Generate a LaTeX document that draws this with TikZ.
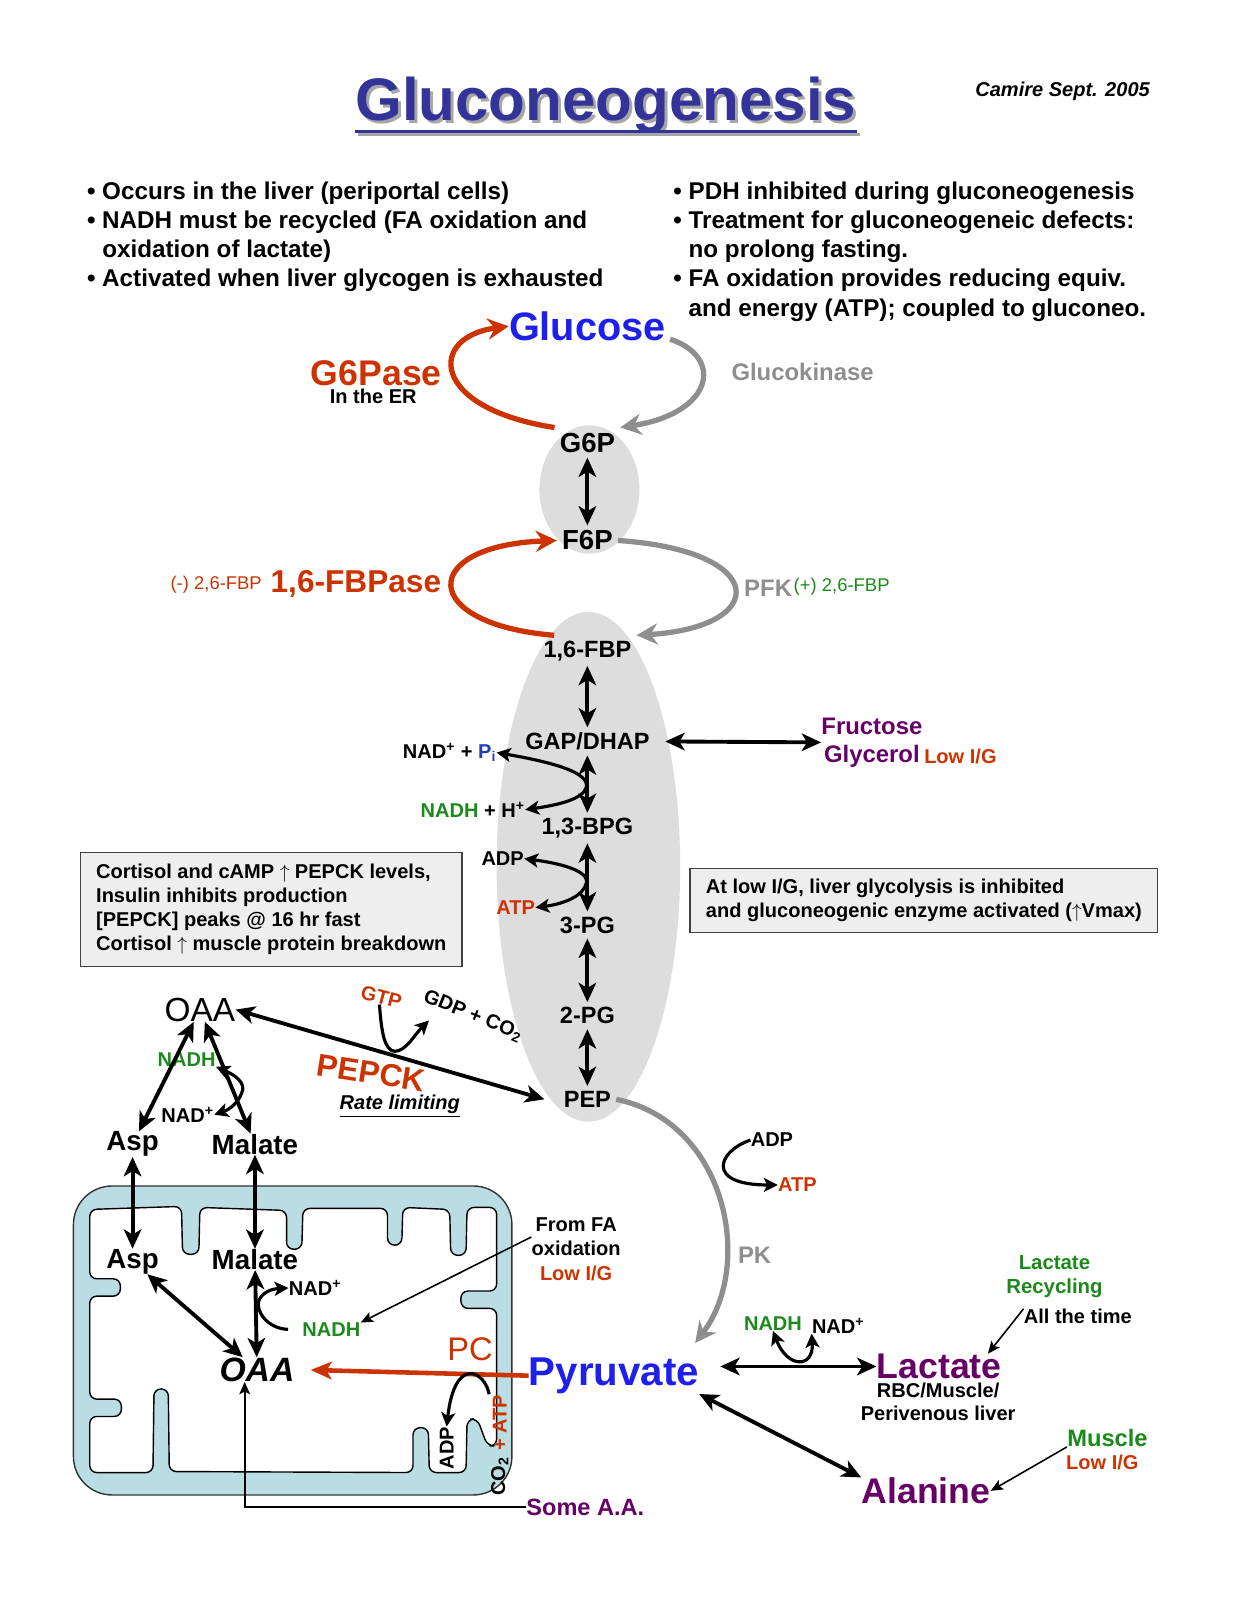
\documentclass[tikz,border=0pt]{standalone}
\usepackage{fontspec}
\setmainfont{Liberation Sans}
\usetikzlibrary{arrows.meta}

\definecolor{rust}{HTML}{CC3300}
\definecolor{leaf}{HTML}{1B8A1B}
\definecolor{plum}{HTML}{660066}
\definecolor{inkblue}{HTML}{333399}
\definecolor{glublue}{HTML}{1F1FEB}
\definecolor{kinase}{HTML}{8E8E8E}
\definecolor{cyto}{HTML}{DDDDDD}
\definecolor{matrixblue}{HTML}{B9DDE3}
\definecolor{boxfill}{HTML}{EEEEEE}
\definecolor{pinblue}{HTML}{1F3FBF}

\newcommand{\fsz}[2]{\fontsize{#1}{#2}\selectfont}

\begin{document}
\begin{tikzpicture}[x=0.0204cm,y=-0.0204cm]

    \useasboundingbox (0,0) rectangle (1213,1569);

    \tikzset{every node/.style={inner sep=0pt},
      met/.style={font=\bfseries\fsz{13.4}{16},outer sep=3pt},
      lbl/.style={font=\bfseries\fsz{11.4}{13.8}},
      hint/.style={font=\fsz{10.5}{12}},
      dbl/.style={{Stealth[length=11pt,width=10pt,inset=3pt]}-{Stealth[length=11pt,width=10pt,inset=3pt]},line width=2.2pt},
      side/.style={{Stealth[length=8pt,width=8pt,inset=2pt]}-{Stealth[length=8pt,width=8pt,inset=2pt]},line width=1.8pt},
      onearr/.style={-{Stealth[length=8pt,width=8pt,inset=2pt]},line width=1.8pt},
      thinarr/.style={-{Stealth[length=7pt,width=6pt,inset=1.5pt]},line width=0.9pt},
      kin/.style={-{Stealth[length=12pt,width=12pt,inset=4pt]},line width=3pt,draw=kinase},
      pase/.style={-{Stealth[length=12pt,width=12pt,inset=4pt]},line width=3pt,draw=rust},
      infobox/.style={draw=black!75,fill=boxfill,line width=0.8pt,align=left,inner xsep=9pt,inner ysep=6pt,font=\bfseries\fsz{11.4}{13.6}}
    }

    % titulo y notas
    \node[text=black!35,font=\bfseries\fsz{34.2}{40}] (titleshadow) at (597,106) {Gluconeogenesis};
    \node[text=inkblue,font=\bfseries\fsz{34.2}{40}] (title) at (594,103) {Gluconeogenesis};
    \draw[black!35,line width=2.2pt] ([shift={(3,1)}]title.south west) -- ([shift={(3,1)}]title.south east);
    \draw[inkblue,line width=2.2pt] ([shift={(0,-2)}]title.south west) -- ([shift={(0,-2)}]title.south east);
    \node[font=\bfseries\itshape\fsz{11.4}{13}] (author) at (1042,90) {Camire Sept. 2005};

    \node[anchor=north west,align=left,font=\bfseries\fsz{13.8}{16.6}] (notesL) at (85,178)
      {•~Occurs in the liver (periportal cells)\\
       •~NADH must be recycled (FA oxidation and\\
       \phantom{•~}oxidation of lactate)\\
       •~Activated when liver glycogen is exhausted};
    \node[anchor=north west,align=left,font=\bfseries\fsz{13.8}{16.6}] (notesR) at (660,178)
      {•~PDH inhibited during gluconeogenesis\\
       •~Treatment for gluconeogeneic defects:\\
       \phantom{•~}no prolong fasting.\\
       •~FA oxidation provides reducing equiv.\\
       \phantom{•~}and energy (ATP); coupled to gluconeo.};

    % citosol
    \fill[cyto] (578,480) ellipse [x radius=49,y radius=63];
    \fill[cyto] (577,850) ellipse [x radius=90,y radius=250];

    \node[text=glublue,font=\bfseries\fsz{22.6}{26}] (glc) at (576,320) {Glucose};
    \node[text=rust,font=\bfseries\fsz{20.3}{24}] (g6pase) at (369,366) {G6Pase};
    \node[lbl] (inER) at (366,389) {In the ER};
    \node[text=kinase,font=\bfseries\fsz{13.6}{16}] (gk) at (787,365) {Glucokinase};

    \node[met,font=\bfseries\fsz{15.7}{18}] (g6p) at (576,434) {G6P};
    \node[met,font=\bfseries\fsz{15.7}{18}] (f6p) at (576,530) {F6P};

    \node[text=rust,font=\bfseries\fsz{18}{21}] (fbpase) at (349,573) {1,6-FBPase};
    \node[hint,text=rust] (fbpneg) at (212,573) {(-) 2,6-FBP};
    \node[anchor=east,text=kinase,font=\bfseries\fsz{13.6}{16}] (pfk) at (777,577) {PFK};
    \node[hint,anchor=west,text=leaf] (fbppos) at (778,575) {(+) 2,6-FBP};

    \node[met] (fbp) at (576,638) {1,6-FBP};
    \node[met] (gap) at (576,727) {GAP/DHAP};
    \node[met] (bpg) at (576,812) {1,3-BPG};
    \node[met] (pg3) at (576,907) {3-PG};
    \node[met] (pg2) at (576,996) {2-PG};
    \node[met] (pep) at (576,1078) {PEP};

    \draw[pase] (g6p.north west) .. controls (420,400) and (420,330) .. (glc.west);
    \draw[kin] ([shift={(4,-2)}]glc.south east) .. controls (710,350) and (700,405) .. (g6p.north east);
    \draw[pase] ([xshift=9pt]fbp.north west) .. controls (410,612) and (410,535) .. (f6p.west);
    \draw[kin] (f6p.east) .. controls (755,540) and (755,615) .. (fbp.north east);

    \begin{scope}[every path/.style={dbl}]
        \draw (g6p) -- (f6p);
        \draw (fbp) -- (gap);
        \draw (gap) -- (bpg);
        \draw (bpg) -- (pg3);
        \draw (pg3) -- (pg2);
        \draw (pg2) -- (pep);
    \end{scope}

    \node[lbl,anchor=east] (nadp1) at (487,738) {NAD\textsuperscript{+} + \textcolor{pinblue}{P\textsubscript{i}}};
    \node[lbl,anchor=east] (nadh1) at (515,794) {\textcolor{leaf}{NADH} + H\textsuperscript{+}};
    \node[lbl,anchor=east] (adp2) at (514,842) {ADP};
    \node[lbl,anchor=east,text=rust] (atp2) at (525,890) {ATP};
    \draw[side] (nadp1.east) .. controls (545,748) and (578,758) .. (575,772)
                .. controls (572,783) and (550,789) .. (nadh1.east);
    \draw[side] (adp2.east) .. controls (560,848) and (578,857) .. (575,866)
                .. controls (572,878) and (555,886) .. (atp2.east);

    \node[text=plum,align=center,font=\bfseries\fsz{13.6}{16}] (fructgly) at (855,728) {Fructose\\Glycerol};
    \node[lbl,anchor=west,text=rust] (lowig1) at (906,742) {Low I/G};
    \draw[dbl,shorten <=6pt] (gap.east) -- (fructgly.west);

    \node[infobox,minimum height=65pt] (boxL) at (266,892)
      {Cortisol and cAMP $\uparrow$ PEPCK levels,\\
       Insulin inhibits production\\
       {[PEPCK]} peaks @ 16 hr fast\\
       Cortisol $\uparrow$ muscle protein breakdown};
    \node[infobox,minimum height=36.6pt] (boxR) at (906,883)
      {At low I/G, liver glycolysis is inhibited\\
       and gluconeogenic enzyme activated ($\uparrow$Vmax)};

    % PEPCK
    \node[font=\fsz{19}{22}] (oaa) at (196,990) {OAA};
    \node[font=\bfseries\fsz{15.8}{18}] (asp) at (130,1122) {Asp};
    \node[font=\bfseries\fsz{15.8}{18}] (mal) at (250,1122) {Malate};
    \node[lbl,text=leaf] (nadh2) at (183,1039) {NADH};
    \node[lbl] (nad2) at (184,1093) {NAD\textsuperscript{+}};
    \draw[dbl] (oaa) -- (asp);
    \draw[dbl] (oaa) -- (mal);
    \draw[side] (nadh2.south east) .. controls (230,1054) and (242,1062) .. (237,1072)
                .. controls (233,1082) and (225,1088) .. (nad2.east);

    \node[lbl,text=rust,rotate=-15] (gtp) at (374,978) {GTP};
    \node[lbl,rotate=-22] (gdp) at (464,996) {GDP + CO\textsubscript{2}};
    \node[text=rust,rotate=-9,font=\bfseries\fsz{18}{21}] (pepck) at (364,1052) {PEPCK};
    \node[font=\bfseries\itshape\fsz{11.4}{13}] (ratelim) at (392,1085) {\underline{Rate limiting}};
    \draw[dbl] (oaa.east) -- ([xshift=-8pt]pep.west);
    \draw[onearr] (gtp.south) .. controls (374,1012) and (377,1030) .. (387,1031)
                  .. controls (398,1031) and (407,1014) .. ([shift={(8,16)}]gdp.south west);

    % mitocondria
    \filldraw[fill=matrixblue,draw=black!80,line width=0.8pt,rounded corners=22pt] (72,1163) rectangle (502,1466);
    \filldraw[fill=white,draw=black,line width=0.8pt,rounded corners=4pt]
      (88,1186) -- (178,1183) -- (179,1230) -- (195,1230) -- (196,1184)
      -- (281,1187) -- (281,1225) -- (296,1225) -- (297,1185)
      -- (380,1185) -- (380,1221) -- (394,1221) -- (395,1184)
      -- (441,1186) -- (442,1231) -- (457,1231) -- (458,1184)
      -- (487,1184) -- (487,1266) -- (452,1266) -- (452,1283) -- (487,1283)
      -- (487,1418) -- (478,1418) -- (468,1391) -- (458,1392) -- (457,1444)
      -- (421,1444) -- (420,1400) -- (405,1400) -- (405,1444)
      -- (166,1443) -- (165,1362) -- (151,1362) -- (150,1444)
      -- (88,1444) -- (88,1389) -- (119,1389) -- (119,1372) -- (88,1372)
      -- (88,1271) -- (118,1271) -- (118,1254) -- (88,1254) -- cycle;

    \node[font=\bfseries\fsz{15.8}{18}] (aspm) at (130,1237) {Asp};
    \node[font=\bfseries\fsz{15.8}{18}] (malm) at (250,1235) {Malate};
    \node[font=\bfseries\itshape\fsz{19.2}{22}] (oaam) at (252,1343) {OAA};
    \node[lbl] (nadm) at (309,1263) {NAD\textsuperscript{+}};
    \node[lbl,text=leaf] (nadhm) at (325,1304) {NADH};
    \draw[dbl] (asp) -- (aspm);
    \draw[dbl] (mal) -- (malm);
    \draw[dbl] (aspm) -- (oaam);
    \draw[dbl] (malm) -- (oaam);
    \draw[onearr,shorten <=8pt] (nadhm.west) .. controls (262,1303) and (250,1285) .. (254,1275)
                  .. controls (257,1268) and (265,1264) .. (nadm.west);

    \node[lbl,align=center] (fromfa) at (565,1213) {From FA\\oxidation};
    \node[lbl,text=rust] (lowig2) at (565,1249) {Low I/G};
    \draw[thinarr] (fromfa.west) -- (nadhm.north east);

    \node[text=glublue,font=\bfseries\fsz{22.9}{26}] (pyr) at (602,1349) {Pyruvate};
    \node[text=rust,font=\fsz{18.6}{21}] (pc) at (461,1323) {PC};
    \draw[-{Stealth[length=12pt,width=10pt,inset=3pt]},line width=2.6pt,rust,shorten >=9pt] (pyr.west) -- (oaam.east);

    \node[lbl,rotate=90] (adpm) at (438,1420) {ADP};
    \node[lbl,rotate=90,text=rust] (atpm) at (490,1395) {+ ATP};
    \node[lbl,rotate=90] (co2m) at (490,1448) {CO\textsubscript{2}};
    \draw[onearr] ([xshift=-6pt]atpm.east) .. controls (476,1345) and (446,1328) .. (adpm.east);

    \node[text=plum,font=\bfseries\fsz{13.4}{16}] (someaa) at (574,1478) {Some A.A.};
    \draw[thinarr,line width=1.3pt] (someaa.west) -| ([xshift=-7pt]oaam.south);

    % piruvato
    \node[lbl] (adp1) at (757,1118) {ADP};
    \node[lbl,text=rust] (atp1) at (782,1162) {ATP};
    \node[text=kinase,font=\bfseries\fsz{13.6}{16}] (pk) at (740,1231) {PK};
    \draw[kin] (pep.east) .. controls (712,1100) and (740,1240) .. ([shift={(-4,-14)}]pyr.north east);
    \draw[onearr] (adp1.west) .. controls (705,1128) and (690,1162) .. (atp1.west);

    \node[text=plum,font=\bfseries\fsz{20.3}{24}] (lac) at (921,1340) {Lactate};
    \node[lbl] (rbc) at (920,1363) {RBC/Muscle/};
    \node[lbl] (periv) at (920,1386) {Perivenous liver};
    \node[lbl,text=leaf] (nadhL) at (758,1298) {NADH};
    \node[lbl] (nadL) at (822,1300) {NAD\textsuperscript{+}};
    \draw[dbl,shorten <=12pt] (lac.west -| pyr.east) -- (lac.west);
    \draw[side] (nadhL.south) .. controls (772,1342) and (798,1342) .. (nadL.south west);

    \node[text=leaf,align=center,font=\bfseries\fsz{11.6}{14}] (recyc) at (1034,1252) {Lactate\\Recycling};
    \node[lbl] (alltime) at (1057,1291) {All the time};
    \draw[thinarr] (alltime.north west) -- ([xshift=-8pt]lac.north east);

    \node[text=plum,font=\bfseries\fsz{20.3}{24}] (ala) at (908,1462) {Alanine};
    \node[text=leaf,font=\bfseries\fsz{13.5}{16}] (musc) at (1086,1410) {Muscle};
    \node[lbl,text=rust] (lowig3) at (1081,1434) {Low I/G};
    \draw[dbl] (pyr.south east) -- (ala.north west);
    \draw[thinarr] (musc.south west) -- (ala.east);

\end{tikzpicture}
\end{document}
